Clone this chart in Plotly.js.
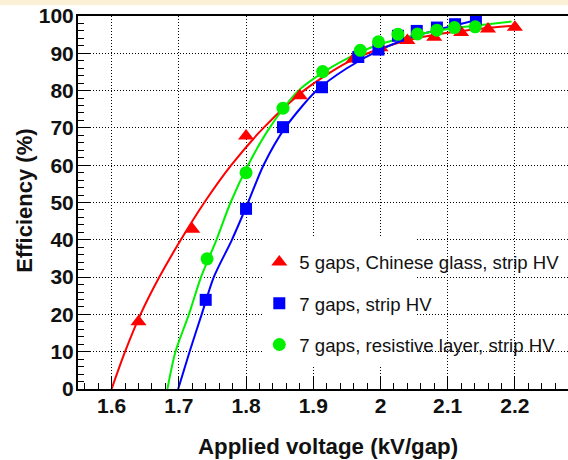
<!DOCTYPE html>
<html>
<head>
<meta charset="utf-8">
<script src="https://cdn.plot.ly/plotly-3.0.1.min.js"></script>
<style>
html,body{margin:0;padding:0;background:#fff;overflow:hidden;}
#chart{width:568px;height:460px;}
</style>
</head>
<body>
<div id="chart"></div>
<script>
// Measured points
var redX = [1.64, 1.72, 1.80, 1.88, 1.96, 2.00, 2.04, 2.08, 2.12, 2.16, 2.20];
var redY = [18, 42.8, 67.8, 78.6, 88.5, 91.5, 93.4, 94.3, 95.6, 96.5, 97.0];
var blueX = [1.74, 1.80, 1.855, 1.913, 1.967, 1.997, 2.026, 2.054, 2.084, 2.111, 2.142];
var blueY = [23.9, 48.3, 70.2, 80.9, 89.0, 91.0, 94.7, 96.0, 96.9, 97.8, 99.2];
var greenX = [1.742, 1.80, 1.855, 1.914, 1.97, 1.997, 2.026, 2.055, 2.084, 2.11, 2.141];
var greenY = [34.9, 58.0, 75.3, 85.1, 90.8, 93.1, 95.1, 95.2, 96.2, 96.9, 97.1];

// Fit curves
var redFitX = [1.600, 1.620, 1.643, 1.671, 1.703, 1.738, 1.778, 1.826, 1.886, 1.950, 2.000, 2.050, 2.100, 2.150, 2.200];
var redFitY = [0, 10, 20, 30, 40, 50, 60, 70, 80, 87.5, 91.3, 93.9, 95.5, 96.6, 97.4];
var blueFitX = [1.699, 1.716, 1.734, 1.752, 1.779, 1.803, 1.826, 1.858, 1.905, 1.950, 2.000, 2.050, 2.100, 2.145];
var blueFitY = [0, 10, 20, 30, 40, 50, 60, 70, 80, 86, 91, 94.5, 97, 99];
var greenFitX = [1.683, 1.695, 1.715, 1.733, 1.756, 1.777, 1.803, 1.835, 1.878, 1.920, 1.970, 2.000, 2.050, 2.100, 2.150, 2.195];
var greenFitY = [0, 10, 20, 30, 40, 50, 60, 70, 80, 85.5, 90.3, 92.5, 94.8, 96.5, 97.6, 98.5];

var legendNames = ["5 gaps, Chinese glass, strip HV", "7 gaps, strip HV", "7 gaps, resistive layer, strip HV"];
var xTitle = "Applied voltage (kV/gap)";
var yTitle = "Efficiency (%)";

var RED = "#ff0000", BLUE = "#0000ff", GREEN = "#00f000";

var traces = [
  {x: redFitX, y: redFitY, mode: "lines", line: {color: RED, width: 2, shape: "spline", smoothing: 0.8}, showlegend: false, hoverinfo: "skip"},
  {x: blueFitX, y: blueFitY, mode: "lines", line: {color: BLUE, width: 2, shape: "spline", smoothing: 0.8}, showlegend: false, hoverinfo: "skip"},
  {x: greenFitX, y: greenFitY, mode: "lines", line: {color: GREEN, width: 2, shape: "spline", smoothing: 0.8}, showlegend: false, hoverinfo: "skip"},
  {x: redX, y: redY, mode: "markers", name: legendNames[0], legendgroup: "a",
   marker: {symbol: "triangle-up", size: 14, color: RED}},
  {x: blueX, y: blueY, mode: "markers", name: legendNames[1], legendgroup: "b",
   marker: {symbol: "square", size: 12, color: BLUE}},
  {x: greenX, y: greenY, mode: "markers", name: legendNames[2], legendgroup: "c",
   marker: {symbol: "circle", size: 13, color: GREEN}}
];

var tickFont = {family: "Liberation Sans, Arial, sans-serif", size: 21, color: "#111", weight: "bold"};

var layout = {
  width: 568, height: 460,
  margin: {l: 78, r: 0, t: 16, b: 71},
  paper_bgcolor: "#ffffff",
  plot_bgcolor: "#ffffff",
  showlegend: true,
  legend: {
    x: 0.37, y: 0.39, xanchor: "left", yanchor: "top",
    bgcolor: "rgba(0,0,0,0)", borderwidth: 0,
    font: {family: "Liberation Sans, Arial, sans-serif", size: 18.6, color: "#111"},
    traceorder: "grouped", tracegroupgap: 14
  },
  xaxis: {
    range: [1.55, 2.279], tickmode: "linear", tick0: 1.6, dtick: 0.1,
    ticks: "inside", ticklen: 12, tickwidth: 1, tickcolor: "#000",
    minor: {dtick: 0.02, ticks: "inside", ticklen: 6, tickwidth: 1, tickcolor: "#000", showgrid: false},
    showgrid: true, gridcolor: "#000", gridwidth: 1, griddash: "1px,2px",
    showline: true, linecolor: "#000", linewidth: 2, mirror: true,
    zeroline: false, tickfont: tickFont, ticklabelstandoff: -3
  },
  yaxis: {
    range: [0, 100], tickmode: "linear", tick0: 0, dtick: 10,
    ticks: "inside", ticklen: 12, tickwidth: 1, tickcolor: "#000",
    minor: {dtick: 2, ticks: "inside", ticklen: 6, tickwidth: 1, tickcolor: "#000", showgrid: false},
    showgrid: true, gridcolor: "#000", gridwidth: 1, griddash: "1px,2px",
    showline: true, linecolor: "#000", linewidth: 2, mirror: false,
    zeroline: false, tickfont: tickFont, ticklabelstandoff: -2
  },
  shapes: [
    {type: "rect", xref: "x", yref: "y", x0: 1.825, x1: 2.054, y0: 6.4, y1: 40.5,
     fillcolor: "#ffffff", line: {width: 0}, layer: "between"},
    {type: "rect", xref: "paper", yref: "paper", x0: -0.2, x1: 1.1, y0: 1.0295, y1: 1.06,
     fillcolor: "#fcf1d6", line: {width: 0}, layer: "above"}
  ],
  annotations: [
    {text: xTitle, xref: "paper", yref: "paper", x: 0.511, y: -0.155, xanchor: "center", yanchor: "middle",
     showarrow: false, font: {family: "Liberation Sans, Arial, sans-serif", size: 22.3, color: "#111", weight: "bold"}},
    {text: yTitle, xref: "paper", yref: "paper", x: -0.108, y: 0.505, xanchor: "center", yanchor: "middle",
     textangle: -90, showarrow: false, font: {family: "Liberation Sans, Arial, sans-serif", size: 22, color: "#111", weight: "bold"}}
  ]
};

Plotly.newPlot("chart", traces, layout, {displayModeBar: false, staticPlot: true});
</script>
</body>
</html>
